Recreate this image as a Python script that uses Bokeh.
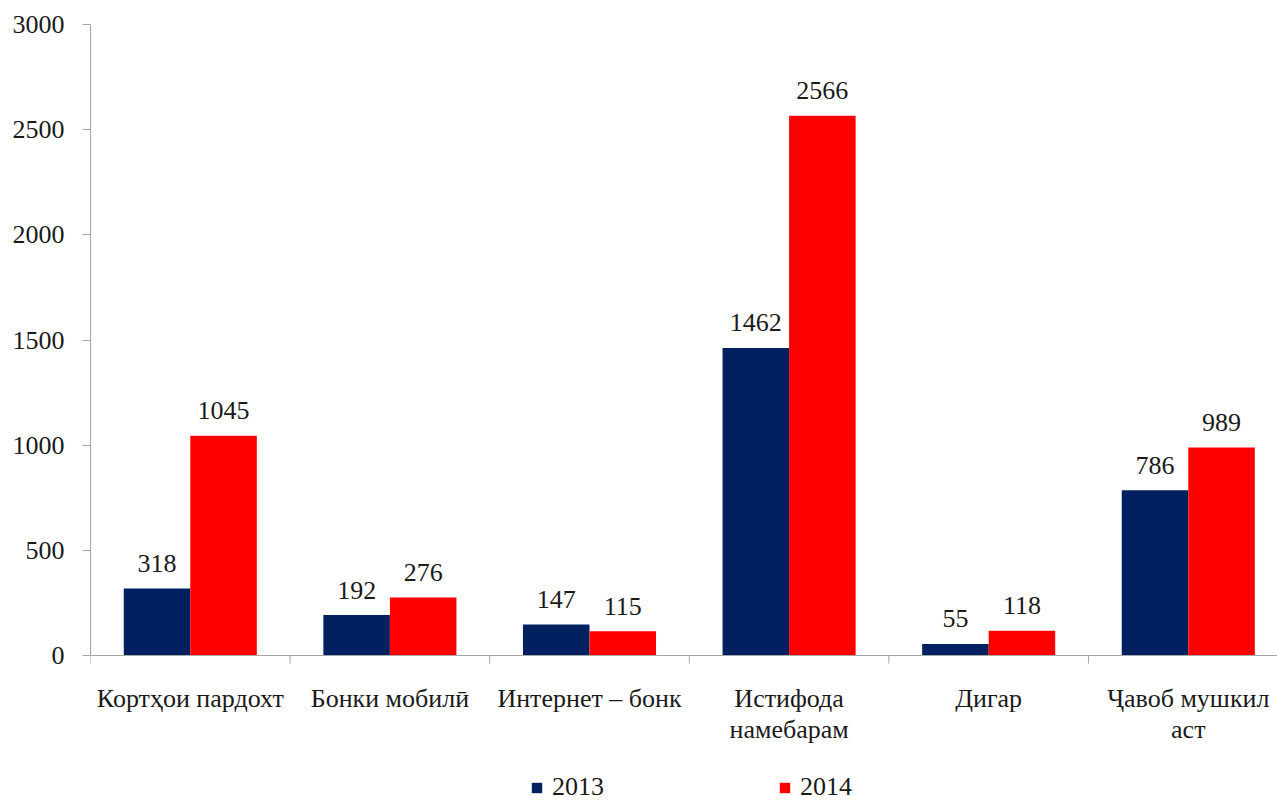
from bokeh.plotting import figure
from bokeh.models import Range1d, FixedTicker, ColumnDataSource, Legend, LegendItem, Span
from bokeh.core.properties import value
from bokeh.embed import file_html
from bokeh.resources import INLINE

categories = ["Кортҳои пардохт", "Бонки мобилӣ", "Интернет – бонк",
              "Истифода\nнамебарам", "Дигар", "Ҷавоб мушкил\nаст"]
years = ["2013", "2014"]
values_2013 = [318, 192, 147, 1462, 55, 786]
values_2014 = [1045, 276, 115, 2566, 118, 989]
y_ticks = [0, 500, 1000, 1500, 2000, 2500, 3000]

FONT = "Liberation Serif"
TXT = "#1a1a1a"
AX = "#a6a6a6"
C13 = "#002060"
C14 = "#ff0000"
FS = "26px"

W, H = 1277, 804
TOP, LEFT = 24, 90
PLOT_H = 631            # pixel height of the 0..3000 data area
Y_MAX = 3000
units_per_px = Y_MAX / PLOT_H
y_min = -(H - TOP - PLOT_H) * units_per_px

n = len(categories)
centers = [i + 0.5 for i in range(n)]
bounds = list(range(n + 1))
x13 = [c - 1/6 for c in centers]
x14 = [c + 1/6 for c in centers]

p = figure(width=W, height=H, output_backend="svg", toolbar_location=None,
           x_range=Range1d(0, 5.947), y_range=Range1d(y_min, Y_MAX),
           min_border_left=LEFT, min_border_right=0, min_border_top=TOP,
           min_border_bottom=0)
p.outline_line_color = None
p.xgrid.visible = False
p.ygrid.visible = False
p.xaxis.visible = False

s13 = ColumnDataSource(dict(x=x13, top=values_2013, lbl=[str(v) for v in values_2013]))
s14 = ColumnDataSource(dict(x=x14, top=values_2014, lbl=[str(v) for v in values_2014]))
r13 = p.vbar(x="x", top="top", bottom=0, width=1/3, source=s13, fill_color=C13, line_color=None)
r14 = p.vbar(x="x", top="top", bottom=0, width=1/3, source=s14, fill_color=C14, line_color=None)

for s in (s13, s14):
    p.text(x="x", y="top", text="lbl", source=s, text_align="center",
           text_baseline="alphabetic", y_offset=-25, text_font=value(FONT),
           text_font_size=FS, text_color=TXT)

# category axis line, ticks and labels (drawn at y = 0)
p.add_layout(Span(location=0, dimension="width", line_color=AX, line_width=1))
p.segment(x0=bounds, y0=[0] * len(bounds), x1=bounds,
          y1=[-8 * units_per_px] * len(bounds), line_color=AX, line_width=1)
p.text(x=centers, y=[0] * n, text=categories, text_align="center",
       text_baseline="top", y_offset=28, text_font=value(FONT),
       text_font_size=FS, text_color=TXT, text_line_height=1.1)

# y axis
ya = p.yaxis[0]
ya.ticker = FixedTicker(ticks=y_ticks)
ya.bounds = (0, Y_MAX)
ya.axis_line_color = AX
ya.major_tick_line_color = AX
ya.major_tick_out = 8
ya.major_tick_in = 0
ya.minor_tick_line_color = None
ya.major_label_text_font = FONT
ya.major_label_text_font_size = FS
ya.major_label_text_color = TXT
ya.major_label_standoff = 18

legend = Legend(items=[LegendItem(label=years[0], renderers=[r13]),
                       LegendItem(label=years[1], renderers=[r14])],
                orientation="horizontal", location=(440, 2),
                glyph_width=13, glyph_height=13, label_standoff=9,
                label_width=52, spacing=174, padding=0, margin=0,
                border_line_color=None, background_fill_alpha=0,
                label_text_font=FONT, label_text_font_size=FS,
                label_text_color=TXT)
p.add_layout(legend, "center")

open("out.html", "w").write(file_html(p, INLINE))
